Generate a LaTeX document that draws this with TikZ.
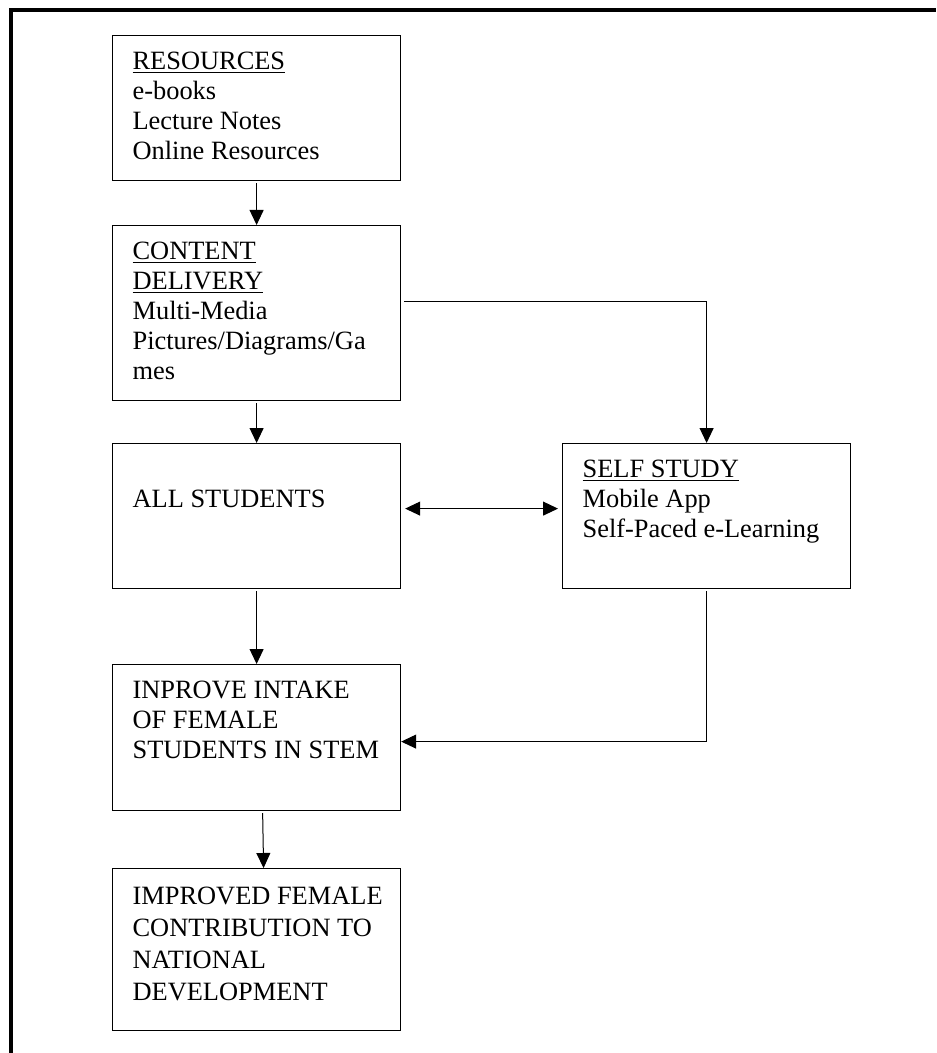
\documentclass[tikz,border=0pt]{standalone}
\usepackage{fontspec}
\setmainfont{Liberation Serif}
\usetikzlibrary{arrows.meta}

\newcommand{\boxtext}[2]{\parbox[c][#1][t]{124pt}{\begin{tabular}[t]{@{}l@{}}#2\end{tabular}}}

\begin{document}
\begin{tikzpicture}[x=0.5pt,y=-0.5pt,
    block/.style={rectangle,draw,line width=0.6pt,anchor=north west,
      inner xsep=10pt,inner ysep=6.5pt,font=\fontsize{13.2}{15}\selectfont},
    link/.style={line width=0.5pt,-{Triangle[length=7.5pt,width=7pt]},
      shorten <=1pt}]
  \useasboundingbox (0,0) rectangle (936,1053);
  \draw[line width=2pt] (10.5,1053) -- (10.5,10.5) -- (936,10.5);

  \node[block] (resources) at (112,35)
       {\boxtext{59.5pt}{\underline{RESOURCES}\\ e-books\\ Lecture Notes\\
        Online Resources}};
  \node[block] (content) at (112,225)
       {\boxtext{74.5pt}{\underline{CONTENT}\\ \underline{DELIVERY}\\
        Multi-Media\\ Pictures/Diagrams/Ga\\ mes}};
  \node[block] (students) at (112,443)
       {\boxtext{59.5pt}{\\ ALL STUDENTS}};
  \node[block] (selfstudy) at (562,443)
       {\boxtext{59.5pt}{\underline{SELF STUDY}\\ Mobile App\\
        Self-Paced e-Learning}};
  \node[block] (intake) at (112,664)
       {\boxtext{60pt}{INPROVE INTAKE\\ OF FEMALE\\ STUDENTS IN STEM}};
  \node[block,font=\fontsize{13.2}{16}\selectfont] (contribution) at (112,868)
       {\boxtext{68pt}{IMPROVED FEMALE\\ CONTRIBUTION TO\\ NATIONAL\\
        DEVELOPMENT}};

  \draw[link] (resources) -- (content);
  \draw[link] (content) -- (students);
  \draw[link,shorten <=1.5pt] ([yshift=5.75pt]content.east) -| (selfstudy.north);
  \draw[link,{Triangle[length=7.5pt,width=7pt]}-{Triangle[length=7.5pt,width=7pt]},
        shorten <=2pt,shorten >=2pt]
       ([yshift=3.75pt]students.east) -- ([yshift=3.75pt]selfstudy.west);
  \draw[link] (students) -- (intake);
  \draw[link] (selfstudy.south) |- ([yshift=-2pt]intake.east);
  \draw[link] ([xshift=3pt]intake.south) -- ([xshift=3.5pt]contribution.north);
\end{tikzpicture}
\end{document}
